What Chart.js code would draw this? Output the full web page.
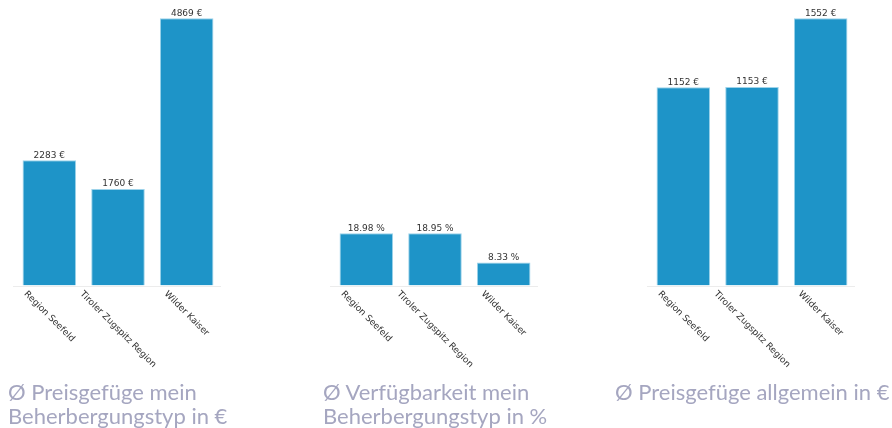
<!DOCTYPE html>
<html>
<head>
<meta charset="utf-8">
<script src="https://cdn.jsdelivr.net/npm/chart.js@4.4.1/dist/chart.umd.min.js"></script>
<style>
  html, body { margin: 0; padding: 0; background: #fff; width: 892px; height: 428px; overflow: hidden; position: relative; }
  canvas { position: absolute; top: 0; }
  .title { position: absolute; font-family: Lato, "Open Sans", sans-serif; font-size: 22px; line-height: 24px; color: #a5a6c0; white-space: nowrap; }
</style>
</head>
<body>
<canvas id="c1" width="300" height="428" style="left:0px"></canvas>
<canvas id="c2" width="300" height="428" style="left:317px"></canvas>
<canvas id="c3" width="258" height="428" style="left:634px"></canvas>
<div class="title" style="left:8px; top:380px;">Ø Preisgefüge mein<br>Beherbergungstyp in €</div>
<div class="title" style="left:323px; top:380px;">Ø Verfügbarkeit mein<br>Beherbergungstyp in %</div>
<div class="title" style="left:615px; top:380px;">Ø Preisgefüge allgemein in €</div>
<script>
const categories = ["Region Seefeld", "Tiroler Zugspitz Region", "Wilder Kaiser"];
const priceMine = [2283, 1760, 4869];
const availabilityMine = [18.98, 18.95, 8.33];
const priceGeneral = [1152, 1153, 1552];
const units = [" €", " %", " €"];
const yMax = [5020, 100, 1600];

const labelPlugin = {
  id: 'labels',
  afterDatasetsDraw(chart, args, opts) {
    const ctx = chart.ctx;
    const meta = chart.getDatasetMeta(0);
    const area = chart.chartArea;
    ctx.save();
    // baseline
    ctx.strokeStyle = '#ececec';
    ctx.lineWidth = 1;
    ctx.beginPath();
    ctx.moveTo(area.left - 2, Math.round(area.bottom) + 0.5);
    ctx.lineTo(area.right, Math.round(area.bottom) + 0.5);
    ctx.stroke();
    // value labels
    ctx.font = '9px "DejaVu Sans"';
    ctx.fillStyle = '#333';
    ctx.textAlign = 'center';
    ctx.textBaseline = 'alphabetic';
    const vals = chart.data.datasets[0].data;
    meta.data.forEach((bar, i) => {
      const v = vals[i];
      const txt = (Number.isInteger(v) ? String(v) : v.toFixed(2)) + opts.unit;
      ctx.fillText(txt, bar.x, bar.y - 2.5);
    });
    // rotated category labels, anchored at each bar's centre
    const c = Math.SQRT1_2, s = Math.SQRT1_2, h = 9;
    ctx.textAlign = 'left';
    ctx.textBaseline = 'top';
    chart.data.labels.forEach((lab, i) => {
      const tx = meta.data[i].x;
      const L = ctx.measureText(lab).width;
      const ox = tx - (L * c - h * s) / 2;
      const oy = area.bottom + 4;
      ctx.save();
      ctx.translate(ox, oy);
      ctx.rotate(Math.PI / 4);
      ctx.fillText(lab, 0, 0);
      ctx.restore();
    });
    ctx.restore();
  }
};

function makeChart(id, values, unit, max, rightPad) {
  return new Chart(document.getElementById(id), {
    type: 'bar',
    data: {
      labels: categories,
      datasets: [{
        data: values,
        backgroundColor: '#1e94c8',
        borderColor: '#9dd3ea',
        borderWidth: 1,
        borderSkipped: 'bottom',
        categoryPercentage: 0.78,
        barPercentage: 1.0
      }]
    },
    options: {
      responsive: false,
      animation: false,
      layout: { padding: { left: 15, right: rightPad, top: 10, bottom: 142.5 } },
      plugins: { legend: { display: false }, tooltip: { enabled: false }, labels: { unit: unit } },
      scales: {
        x: { display: false },
        y: { display: false, min: 0, max: max }
      }
    },
    plugins: [labelPlugin]
  });
}

makeChart('c1', priceMine, units[0], yMax[0], 79);
makeChart('c2', availabilityMine, units[1], yMax[1], 79);
makeChart('c3', priceGeneral, units[2], yMax[2], 37);
</script>
</body>
</html>
